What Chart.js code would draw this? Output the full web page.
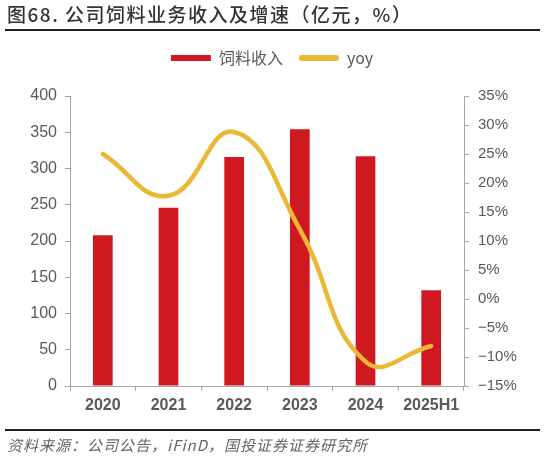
<!DOCTYPE html>
<html>
<head>
<meta charset="utf-8">
<script src="https://cdn.jsdelivr.net/npm/chart.js@4.4.1/dist/chart.umd.min.js"></script>
<style>
  html, body { margin: 0; padding: 0; background: #fff; }
  #wrap { position: relative; width: 544px; height: 457px; overflow: hidden; }
  #chartBox { position: absolute; left: 0; top: 0; width: 544px; height: 457px; }
  .title {
    position: absolute; left: 7px; top: 3px;
    font: 500 19px "Noto Sans CJK SC", sans-serif; color: #333;
    letter-spacing: 1.5px; line-height: 22px; white-space: nowrap;
  }
  .rule { position: absolute; left: 5px; width: 535px; height: 2px; background: #222; }
  .source {
    position: absolute; left: 7px; top: 436px;
    font: italic 15px "Noto Sans CJK SC", sans-serif; color: #666;
    letter-spacing: 1px; line-height: 18px; white-space: nowrap;
  }
</style>
</head>
<body>
<div id="wrap">
  <div id="chartBox"><canvas id="feedChart"></canvas></div>
  <div class="title">图68. 公司饲料业务收入及增速（亿元，%）</div>
  <div class="rule" style="top:29px"></div>
  <div class="rule" style="top:429px"></div>
  <div class="source">资料来源：公司公告，iFinD，国投证券证券研究所</div>
</div>
<script>
// data
var years = ["2020", "2021", "2022", "2023", "2024", "2025H1"];
var feedRevenue = [208, 246, 316, 354, 317, 132];
var yoy = [25.0, 17.8, 28.8, 12.0, -10.8, -8.1];

var barRed = '#CF1820';
var lineYellow = '#EBB737';
var tickGray = '#595959';
var axisGray = '#A6A6A6';

function minusFmt(v) {
  return (v < 0 ? '\u2212' + Math.abs(v) : v) + '%';
}

new Chart(document.getElementById('feedChart'), {
  type: 'bar',
  data: {
    labels: years,
    datasets: [{
      label: '饲料收入',
      data: feedRevenue,
      backgroundColor: barRed,
      categoryPercentage: 1,
      barPercentage: 0.3,
      yAxisID: 'y',
      order: 1
    }, {
      type: 'line',
      label: 'yoy',
      data: yoy,
      borderColor: lineYellow,
      backgroundColor: lineYellow,
      borderWidth: 4.5,
      tension: 0.45,
      pointRadius: 0,
      borderCapStyle: 'round',
      yAxisID: 'y1',
      order: 0
    }]
  },
  options: {
    responsive: true,
    maintainAspectRatio: false,
    animation: false,
    layout: { padding: { top: 34, left: 0, right: 0, bottom: 0 } },
    plugins: {
      tooltip: { enabled: false },
      legend: {
        position: 'top',
        labels: {
          color: tickGray,
          font: { family: '"Noto Sans CJK SC", sans-serif', size: 16 },
          boxWidth: 40,
          boxHeight: 6,
          padding: 16,
          useBorderRadius: true,
          sort: function (a, b) { return a.datasetIndex - b.datasetIndex; },
          generateLabels: function (chart) {
            var items = Chart.defaults.plugins.legend.labels.generateLabels(chart);
            items.forEach(function (it) {
              var ds = chart.data.datasets[it.datasetIndex];
              it.fillStyle = ds.type === 'line' ? lineYellow : barRed;
              it.lineWidth = 0;
              it.borderRadius = ds.type === 'line' ? 3 : 0;
            });
            return items;
          }
        }
      }
    },
    scales: {
      x: {
        grid: { offset: true, drawOnChartArea: false, drawTicks: true, tickLength: 5, color: axisGray },
        border: { display: true, color: axisGray },
        ticks: { color: tickGray, padding: 5, font: { family: '"Liberation Sans", Arial', size: 16, weight: 'bold' } },
        afterFit: function (s) { s.height = 71; }
      },
      y: {
        position: 'left',
        min: 0, max: 400,
        grid: { drawOnChartArea: false, drawTicks: true, tickLength: 5, color: axisGray },
        border: { display: true, color: axisGray },
        ticks: { stepSize: 50, color: tickGray, padding: 8, font: { family: '"Liberation Sans", Arial', size: 16 } },
        afterFit: function (s) { s.width = 70; }
      },
      y1: {
        position: 'right',
        min: -15, max: 35,
        grid: { drawOnChartArea: false, drawTicks: true, tickLength: 5, color: axisGray },
        border: { display: true, color: axisGray },
        ticks: { stepSize: 5, color: tickGray, padding: 9, font: { family: '"Liberation Sans", Arial', size: 15 }, callback: minusFmt },
        afterFit: function (s) { s.width = 80; }
      }
    }
  },
  plugins: [{
    id: 'legendHeight',
    beforeInit: function (chart) {
      var fit = chart.legend.fit;
      chart.legend.fit = function () {
        fit.bind(chart.legend)();
        this.height = 62;
      };
    }
  }]
});
</script>
</body>
</html>
